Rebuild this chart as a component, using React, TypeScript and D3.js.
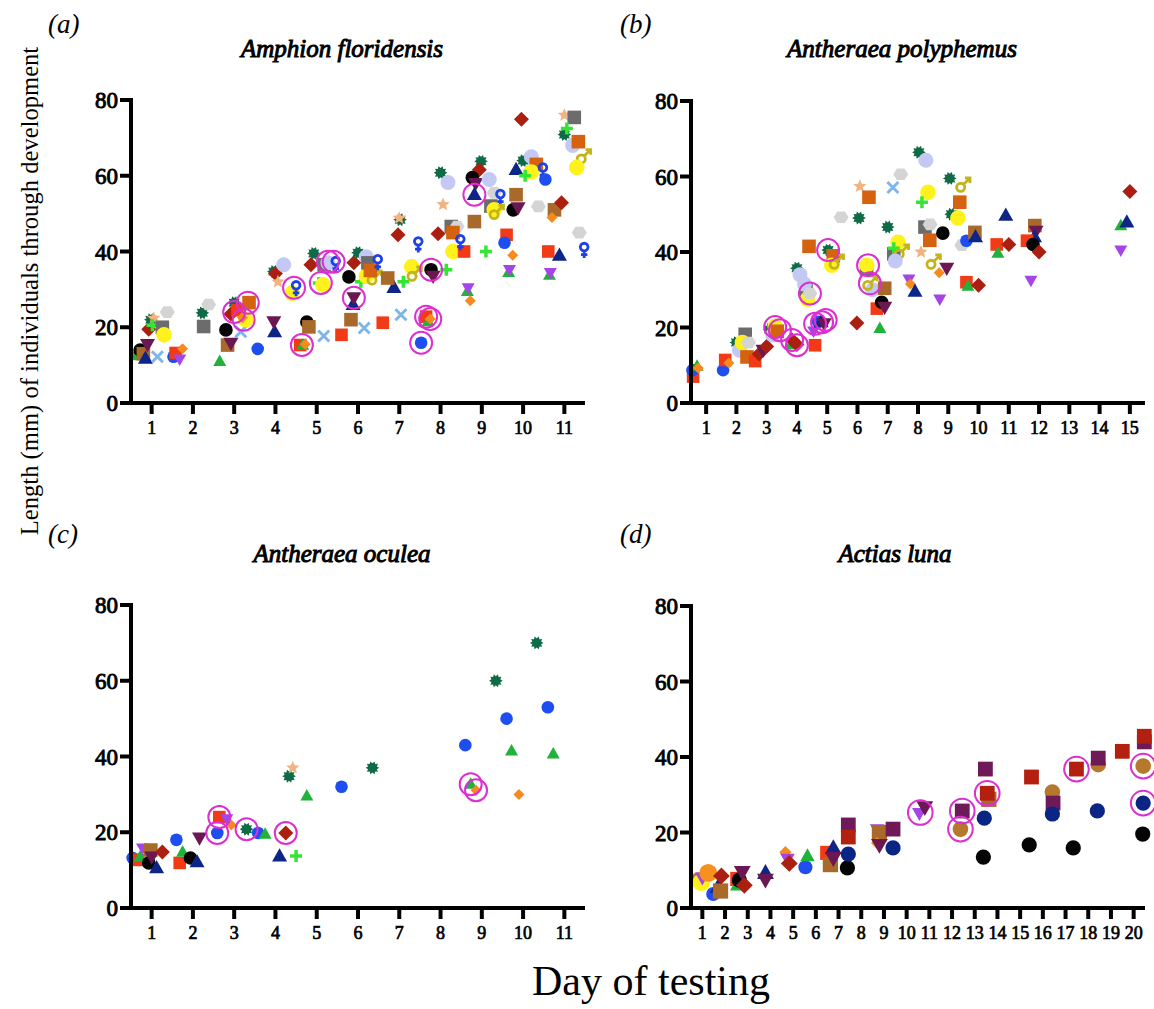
import React from 'react';
import * as d3 from 'd3';

type Pt = [number, number, string];
type Ring = [number, number];

// ---------- DATA ----------
const ticksA = d3.range(1, 12);
const ticksB = d3.range(1, 16);
const ticksC = d3.range(1, 12);
const ticksD = d3.range(1, 21);
const yTicks = [0, 20, 40, 60, 80];

const pointsA: Pt[] = [
  [0.6, 12.5, 'grT'], [0.72, 14, 'bk'], [0.8, 13, 'brS'], [0.85, 11.8, 'nvT'], [0.9, 15.5, 'dpV'],
  [0.93, 19.5, 'drD'], [0.98, 22, 'gs'], [1.05, 22.4, 'st'], [1.02, 20.5, 'gP'], [1.14, 12.2, 'lbX'],
  [1.26, 20, 'gyS'], [1.38, 24, 'hx'], [1.3, 18, 'ye'], [1.53, 12.2, 'bl'], [1.58, 13.2, 'rd'],
  [1.75, 14.3, 'orD'], [1.68, 11.6, 'puV'],
  [2.23, 23.8, 'gs'], [2.38, 26, 'hx'], [2.26, 20.2, 'gyS'],
  [2.65, 11, 'grT'], [2.8, 19.3, 'bk'], [2.84, 15.3, 'brS'], [2.92, 15.8, 'dpV'], [3.16, 18.8, 'lbX'],
  [2.92, 23.5, 'drD'], [3.0, 26.5, 'gs'], [3.08, 24.5, 'rd'], [3.36, 26.5, 'doS'], [3.28, 22, 'ye'],
  [3.2, 22.5, 'orD'], [3.57, 14.3, 'bl'], [3.98, 18.8, 'nvT'], [3.96, 21.5, 'dpV'],
  [3.96, 34.7, 'gs'], [4.0, 34.2, 'drD'], [4.06, 32, 'st'], [4.2, 36.5, 'lv'], [4.4, 29, 'ye'],
  [4.5, 30.4, 'fe'], [4.76, 21.4, 'bk'], [4.81, 20.1, 'brS'], [4.6, 15.3, 'rd'], [4.66, 15.3, 'grT'],
  [4.72, 15.5, 'orD'], [5.17, 17.7, 'lbX'], [5.05, 31.7, 'gP'], [5.15, 31.2, 'ye'],
  [4.93, 39.5, 'gs'], [4.86, 36.5, 'drD'], [5.18, 36.5, 'gyS'], [5.27, 37, 'lv'], [5.46, 36.8, 'fe'],
  [5.6, 18, 'rd'], [5.83, 22, 'brS'], [5.88, 26, 'nvT'], [5.9, 27.8, 'dpV'], [6.15, 19.8, 'lbX'],
  [6.6, 21.2, 'rd'], [7.04, 23.3, 'lbX'], [5.78, 33.3, 'bk'], [6.07, 32, 'gP'], [6.2, 33.5, 'ye'],
  [6.39, 33, 'ma'], [6.87, 30.5, 'nvT'], [6.72, 33, 'brS'],
  [5.9, 37, 'drD'], [6.0, 39.7, 'gs'], [6.2, 38.6, 'lv'], [6.24, 37, 'gyS'], [6.3, 35, 'doS'], [6.48, 37.3, 'fe'],
  [7.1, 32, 'gP'], [7.3, 36, 'ye'], [7.36, 34, 'ma'], [7.77, 35.2, 'bk'], [7.82, 33.5, 'dpV'],
  [8.14, 35.2, 'gP'], [7.65, 22.8, 'rd'], [7.7, 21.5, 'grT'], [7.75, 22.2, 'orD'], [7.53, 15.9, 'bl'],
  [8.65, 29.5, 'grT'], [8.67, 30.4, 'puV'], [8.72, 27, 'orD'], [9.65, 34.5, 'grT'], [9.67, 35.2, 'puV'],
  [10.64, 33.8, 'grT'], [10.66, 34.4, 'puV'],
  [9.96, 74.9, 'drD'], [11.0, 76, 'st'], [11.24, 75.4, 'gyS'], [11.0, 70.9, 'gs'], [11.06, 72.5, 'gP'],
  [11.2, 68, 'lv'], [11.34, 69, 'doS'], [11.46, 65, 'ma'], [11.3, 62.2, 'ye'],
  [8.98, 63.8, 'gs'], [8.94, 61.6, 'drD'], [8.0, 60.8, 'gs'], [8.18, 58.2, 'lv'], [8.77, 59.5, 'bk'],
  [8.85, 58, 'dpV'], [9.18, 59, 'lv'], [8.82, 55, 'nvT'], [9.3, 55.5, 'hx'], [9.45, 54.5, 'fe'],
  [8.06, 52.4, 'st'], [7.02, 48.4, 'gs'], [7.0, 48.8, 'st'], [6.97, 44.4, 'drD'], [7.94, 44.7, 'drD'],
  [8.26, 46.6, 'gyS'], [8.4, 46.6, 'hx'], [8.3, 45, 'doS'], [7.46, 42, 'fe'], [8.82, 47.9, 'brS'],
  [9.83, 55, 'brS'], [9.83, 61.6, 'nvT'], [10.0, 64, 'gs'], [10.2, 65, 'lv'], [10.32, 63, 'doS'],
  [10.2, 61, 'ye'], [10.05, 60, 'gP'], [10.48, 61.5, 'fe'], [10.54, 59, 'bl'],
  [9.22, 52, 'gyS'], [9.3, 51, 'ye'], [9.35, 50.3, 'ma'], [9.76, 51, 'bk'], [9.88, 51.6, 'dpV'],
  [10.76, 51, 'brS'], [10.93, 52.9, 'drD'], [10.7, 49, 'orD'], [10.37, 51.9, 'hx'], [11.36, 45, 'hx'],
  [11.48, 40.5, 'fe'], [10.61, 40, 'rd'], [10.88, 39, 'nvT'], [9.6, 44.4, 'rd'], [9.55, 42.3, 'bl'],
  [9.75, 39, 'orD'], [9.1, 40, 'gP'], [8.3, 40, 'ye'], [8.57, 40, 'rd'], [8.48, 42.6, 'fe'],
];
const ringsA: Ring[] = [
  [3.0, 24], [3.33, 26.5], [3.23, 22], [4.45, 30.4], [5.1, 31.7], [4.64, 15.3], [5.9, 27.8],
  [5.27, 37.3], [5.41, 37.3], [7.77, 35.2], [7.65, 22.8], [7.75, 22.2], [7.53, 15.9], [8.82, 55],
];

const pointsB: Pt[] = [
  [0.57, 7, 'rd'], [0.55, 8.7, 'bl'], [0.7, 9.8, 'grT'], [0.74, 9.3, 'orD'], [1.56, 8.7, 'bl'],
  [1.63, 11.4, 'rd'], [1.75, 10.6, 'orD'], [2.0, 16, 'gs'], [2.1, 14, 'lv'], [2.29, 18.2, 'gyS'],
  [2.2, 16, 'ye'], [2.4, 16, 'hx'], [2.35, 12.2, 'doS'], [2.62, 11.1, 'rd'], [2.75, 13, 'drD'],
  [2.88, 14, 'dpV'], [3.0, 15, 'drD'], [3.1, 19.5, 'gs'], [3.2, 18, 'lv'], [3.28, 20.3, 'ye'],
  [3.35, 19, 'doS'], [3.8, 15.5, 'grT'], [3.84, 16.7, 'drD'], [4.0, 15.5, 'drD'],
  [4.3, 30, 'gyS'], [4.25, 31.5, 'lv'], [4.35, 27.5, 'ye'], [4.43, 29, 'hx'], [4.0, 35.7, 'gs'],
  [4.1, 34, 'lv'], [4.6, 15.3, 'rd'], [4.55, 19, 'puV'], [4.7, 21.5, 'bl'], [4.8, 21.5, 'nvT'],
  [4.9, 21, 'dpV'], [4.4, 41.5, 'doS'], [5.03, 40.5, 'gs'], [5.2, 39, 'doS'], [5.15, 36.5, 'ye'],
  [5.3, 37.3, 'ma'], [5.46, 49.2, 'hx'], [6.05, 49, 'gs'], [6.08, 57.4, 'st'], [6.38, 54.5, 'doS'],
  [5.98, 21.2, 'drD'], [6.3, 35.5, 'gyS'], [6.31, 36.5, 'ye'], [6.5, 30, 'lv'], [6.41, 31.7, 'ma'],
  [6.64, 25, 'rd'], [6.8, 26.7, 'bk'], [6.9, 25.4, 'dpV'], [6.9, 30.4, 'brS'], [6.74, 19.8, 'grT'],
  [7.0, 46.6, 'gs'], [7.17, 57.1, 'lbX'], [7.43, 60.6, 'hx'], [7.2, 39.5, 'gyS'], [7.34, 42.6, 'ye'],
  [7.2, 41, 'gP'], [7.45, 40, 'ma'], [7.25, 37.6, 'lv'], [7.7, 32.8, 'puV'], [7.75, 31.5, 'orD'],
  [7.9, 29.6, 'nvT'], [8.03, 66.4, 'gs'], [8.26, 64.3, 'lv'], [8.33, 55.8, 'ye'], [8.13, 53.2, 'gP'],
  [8.23, 46.6, 'gyS'], [8.4, 47.3, 'hx'], [8.39, 43.1, 'doS'], [8.1, 40, 'st'], [8.5, 37.3, 'ma'],
  [8.82, 45, 'bk'], [8.72, 27.5, 'puV'], [8.7, 34.5, 'orD'], [8.95, 35.7, 'dpV'],
  [9.05, 59.5, 'gs'], [9.48, 57.7, 'ma'], [9.38, 53.2, 'doS'], [9.1, 50, 'gs'], [9.32, 49, 'ye'],
  [9.45, 41.8, 'hx'], [9.6, 43, 'bl'], [9.88, 45.2, 'brS'], [9.9, 44, 'nvT'], [9.6, 32, 'rd'],
  [9.65, 31, 'grT'], [10.0, 31.2, 'drD'], [10.6, 42, 'rd'], [11.0, 42, 'drD'], [10.9, 49.7, 'nvT'],
  [10.64, 39.7, 'grT'], [11.73, 32.5, 'puV'], [11.86, 47, 'brS'], [11.9, 45.5, 'dpV'], [11.85, 44, 'nvT'],
  [11.6, 43, 'rd'], [11.8, 42, 'bk'], [12.0, 40, 'drD'], [15.0, 56, 'drD'], [14.7, 47, 'grT'],
  [14.9, 47.9, 'nvT'], [14.7, 40.5, 'puV'],
];
const ringsB: Ring[] = [
  [3.28, 20.1], [3.44, 19.3], [3.84, 16.7], [4.0, 15.3], [4.43, 29], [4.6, 21], [4.83, 21.4],
  [4.95, 22], [6.41, 31.7], [6.35, 36.5], [5.03, 40.5],
];

const pointsC: Pt[] = [
  [0.54, 13.2, 'bl'], [0.66, 12.7, 'rd'], [0.72, 13.5, 'grT'], [0.78, 15.8, 'puV'], [0.98, 15.3, 'brS'],
  [0.93, 11.9, 'bk'], [1.0, 13.5, 'dpV'], [1.12, 10.6, 'nvT'], [1.26, 14.8, 'drD'], [1.6, 18, 'bl'],
  [1.68, 11.9, 'rd'], [1.75, 14.8, 'grT'], [1.94, 13.2, 'bk'], [2.1, 12.2, 'nvT'], [2.16, 18.5, 'dpV'],
  [2.59, 19.8, 'bl'], [2.64, 24, 'rd'], [2.82, 23.5, 'puV'], [2.93, 21.9, 'orD'], [3.3, 20.8, 'gs'],
  [3.58, 19.8, 'bl'], [3.75, 19.5, 'grT'], [4.1, 13.7, 'nvT'], [4.25, 19.8, 'drD'], [4.5, 13.7, 'gP'],
  [4.33, 34.8, 'gs'], [4.42, 37, 'st'], [4.76, 29.6, 'grT'], [5.6, 32, 'bl'], [6.35, 37, 'gs'],
  [8.6, 43, 'bl'], [8.73, 32.7, 'grT'], [8.86, 31.1, 'orD'], [9.34, 60, 'gs'], [9.6, 50, 'bl'],
  [9.72, 41.5, 'grT'], [9.9, 30, 'orD'], [10.33, 70, 'gs'], [10.6, 53, 'bl'], [10.73, 40.7, 'grT'],
];
const ringsC: Ring[] = [[2.64, 24], [2.59, 19.8], [3.3, 20.8], [4.25, 19.8], [8.73, 32.7], [8.86, 31.1]];

const pointsD: Pt[] = [
  [0.82, 7.4, 'brC'], [0.95, 6.8, 'ye'], [1.0, 8, 'puV'], [1.26, 9.3, 'orC'], [1.48, 3.7, 'bl'],
  [1.7, 5.6, 'nvT'], [1.8, 4.5, 'brS'], [1.84, 8.5, 'drD'], [2.54, 7.7, 'rd'], [2.54, 6, 'grT'],
  [2.63, 7.4, 'bk'], [2.76, 9.5, 'dpV'], [2.85, 6, 'drD'], [3.78, 9.3, 'nvT'], [3.78, 7.5, 'dpV'],
  [4.66, 14.8, 'orD'], [4.75, 13, 'puV'], [4.83, 11.8, 'drD'], [5.54, 10.8, 'bl'], [5.63, 13.8, 'grT'],
  [6.5, 14.6, 'rd'], [6.77, 15.9, 'nvT'], [6.64, 11.5, 'brS'], [6.77, 13.2, 'dpV'], [7.39, 10.6, 'bk'],
  [7.43, 14.3, 'nvC'], [7.43, 22, 'dpS'], [7.43, 18.8, 'drS'], [8.7, 20.8, 'puV'], [8.8, 20, 'brS'],
  [8.7, 17.2, 'orD'], [8.8, 16.7, 'dpV'], [9.4, 20.9, 'dpS'], [9.4, 15.9, 'nvC'],
  [10.56, 25.1, 'puV'], [10.8, 26.7, 'dpV'], [12.45, 25.7, 'dpS'], [12.37, 20.9, 'brC'],
  [13.47, 36.8, 'dpS'], [13.62, 28.8, 'brS'], [13.55, 30.4, 'drS'], [13.42, 23.8, 'nvC'], [13.38, 13.5, 'bk'],
  [15.5, 34.7, 'drS'], [15.4, 16.7, 'bk'], [16.42, 30.7, 'brC'], [16.45, 27.8, 'dpS'], [16.42, 24.9, 'nvC'],
  [17.48, 36.8, 'drS'], [17.34, 15.9, 'bk'], [18.44, 38, 'brC'], [18.44, 39.7, 'dpS'], [18.4, 25.7, 'nvC'],
  [19.5, 41.5, 'drS'], [20.47, 44, 'dpS'], [20.47, 45.5, 'drS'], [20.42, 37.6, 'brC'], [20.42, 27.8, 'nvC'],
  [20.4, 19.6, 'bk'],
];
const ringsD: Ring[] = [[10.6, 25.3], [12.45, 25.7], [12.37, 20.9], [13.55, 30.4], [17.48, 36.8], [20.42, 37.6], [20.42, 27.8]];

// ---------- SHAPES ----------
type Ctx = { moveTo: (x: number, y: number) => void; lineTo: (x: number, y: number) => void; arc: (x: number, y: number, r: number, a0: number, a1: number) => void; closePath: () => void };
const poly = (c: Ctx, pts: [number, number][]) => {
  pts.forEach((p, i) => (i === 0 ? c.moveTo(p[0], p[1]) : c.lineTo(p[0], p[1])));
  c.closePath();
};
const ring = (c: Ctx, x: number, y: number, r: number) => {
  c.moveTo(x + r, y);
  c.arc(x, y, r, 0, 2 * Math.PI);
};
const SHAPES: Record<string, { draw: (c: Ctx, r: number) => void }> = {
  circle: { draw: (c, r) => ring(c, 0, 0, r) },
  square: { draw: (c, r) => poly(c, [[-r, -r], [r, -r], [r, r], [-r, r]]) },
  diamond: { draw: (c, r) => poly(c, [[0, -r], [r, 0], [0, r], [-r, 0]]) },
  triangle: { draw: (c, r) => poly(c, [[0, -1.05 * r], [r, 0.72 * r], [-r, 0.72 * r]]) },
  triDown: { draw: (c, r) => poly(c, [[0, 1.05 * r], [r, -0.72 * r], [-r, -0.72 * r]]) },
  star: {
    draw: (c, r) => poly(c, d3.range(10).map((i) => {
      const a = -Math.PI / 2 + (i * Math.PI) / 5;
      const rr = i % 2 === 0 ? r : r * 0.45;
      return [rr * Math.cos(a), rr * Math.sin(a)] as [number, number];
    })),
  },
  gear: {
    draw: (c, r) => poly(c, d3.range(20).map((i) => {
      const a = (i * Math.PI) / 10;
      const rr = i % 2 === 0 ? r : r * 0.68;
      return [rr * Math.cos(a), rr * Math.sin(a)] as [number, number];
    })),
  },
  hex: {
    draw: (c, r) => poly(c, d3.range(6).map((i) => {
      const a = (i * Math.PI) / 3;
      return [r * Math.cos(a), r * 0.9 * Math.sin(a)] as [number, number];
    })),
  },
  x: { draw: (c, r) => { c.moveTo(-r, -r); c.lineTo(r, r); c.moveTo(r, -r); c.lineTo(-r, r); } },
  plus: { draw: (c, r) => { c.moveTo(-r, 0); c.lineTo(r, 0); c.moveTo(0, -r); c.lineTo(0, r); } },
  female: {
    draw: (c, r) => {
      ring(c, 0, -0.3 * r, 0.45 * r);
      c.moveTo(0, 0.15 * r); c.lineTo(0, 1.0 * r);
      c.moveTo(-0.38 * r, 0.6 * r); c.lineTo(0.38 * r, 0.6 * r);
    },
  },
  male: {
    draw: (c, r) => {
      ring(c, -0.25 * r, 0.25 * r, 0.48 * r);
      c.moveTo(0.1 * r, -0.1 * r); c.lineTo(0.8 * r, -0.8 * r);
      c.moveTo(0.25 * r, -0.85 * r); c.lineTo(0.85 * r, -0.85 * r); c.lineTo(0.85 * r, -0.25 * r);
    },
  },
};

const STYLE: Record<string, { shape: string; r: number; fill?: string; stroke?: string; sw?: number }> = {
  bk: { shape: 'circle', r: 6.8, fill: '#050505' },
  bl: { shape: 'circle', r: 6.3, fill: '#1f4ef0' },
  nvC: { shape: 'circle', r: 6.8, fill: '#0b2585' },
  lv: { shape: 'circle', r: 7.5, fill: '#c3c8f5' },
  ye: { shape: 'circle', r: 7.8, fill: '#fff21c' },
  brC: { shape: 'circle', r: 7, fill: '#b5782c' },
  orC: { shape: 'circle', r: 8, fill: '#f7901c' },
  rd: { shape: 'square', r: 6.3, fill: '#f33a16' },
  brS: { shape: 'square', r: 6.8, fill: '#a8692a' },
  doS: { shape: 'square', r: 6.8, fill: '#d4620f' },
  gyS: { shape: 'square', r: 6.8, fill: '#6c6c6c' },
  dpS: { shape: 'square', r: 6.6, fill: '#6f1a58' },
  drS: { shape: 'square', r: 6.6, fill: '#b3200f' },
  drD: { shape: 'diamond', r: 7.5, fill: '#ab1f10' },
  orD: { shape: 'diamond', r: 5.5, fill: '#f58a1f' },
  nvT: { shape: 'triangle', r: 7.5, fill: '#0d2587' },
  grT: { shape: 'triangle', r: 6.5, fill: '#20b23a' },
  puV: { shape: 'triDown', r: 6.5, fill: '#a545e8' },
  dpV: { shape: 'triDown', r: 7.5, fill: '#6b1752' },
  gs: { shape: 'gear', r: 6.8, fill: '#0f6b45' },
  st: { shape: 'star', r: 7, fill: '#f2b383' },
  lbX: { shape: 'x', r: 5.5, stroke: '#7fb6ea', sw: 3 },
  gP: { shape: 'plus', r: 6, stroke: '#34e634', sw: 3.5 },
  hx: { shape: 'hex', r: 7.5, fill: '#d4d4d4' },
  fe: { shape: 'female', r: 8.5, stroke: '#1d40e8', sw: 2.8 },
  ma: { shape: 'male', r: 8.5, stroke: '#c4b41c', sw: 2.8 },
};

const FONT = "'Liberation Serif', 'Times New Roman', serif";

type Panel = {
  letter: string; title: string; points: Pt[]; rings: Ring[]; ticks: number[]; xMax: number;
  x0: number; x1: number; yTop: number; yBot: number; scale: number;
  titleX: number; titleY: number; letterX: number; letterY: number;
};

const PANELS: Panel[] = [
  { letter: '(a)', title: 'Amphion floridensis', points: pointsA, rings: ringsA, ticks: ticksA, xMax: 11.5,
    x0: 131, x1: 585, yTop: 100, yBot: 403, scale: 1, titleX: 342, titleY: 57, letterX: 48, letterY: 33 },
  { letter: '(b)', title: 'Antheraea polyphemus', points: pointsB, rings: ringsB, ticks: ticksB, xMax: 15.5,
    x0: 691, x1: 1145, yTop: 101, yBot: 403, scale: 1, titleX: 902, titleY: 57, letterX: 620, letterY: 33 },
  { letter: '(c)', title: 'Antheraea oculea', points: pointsC, rings: ringsC, ticks: ticksC, xMax: 11.5,
    x0: 131, x1: 585, yTop: 605, yBot: 908, scale: 1, titleX: 342, titleY: 562, letterX: 48, letterY: 543 },
  { letter: '(d)', title: 'Actias luna', points: pointsD, rings: ringsD, ticks: ticksD, xMax: 20.5,
    x0: 691, x1: 1145, yTop: 606, yBot: 908, scale: 1.12, titleX: 895, titleY: 562, letterX: 620, letterY: 543 },
];

// faux-bold: the serif bold face is not installed, so regular glyphs get a thin outline
const boldText = { stroke: '#000', strokeWidth: 0.9, paintOrder: 'stroke' as const };

function Marker({ x, y, k, scale }: { x: number; y: number; k: string; scale: number }) {
  const s = STYLE[k];
  const d = d3.symbol(SHAPES[s.shape] as any, s.r * scale)() as string;
  return (
    <path
      d={d}
      transform={`translate(${x},${y})`}
      fill={s.fill ?? 'none'}
      stroke={s.stroke ?? 'none'}
      strokeWidth={s.sw ?? 0}
      strokeLinecap="butt"
    />
  );
}

function PanelView({ p }: { p: Panel }) {
  const x = d3.scaleLinear().domain([0.5, p.xMax]).range([p.x0, p.x1]);
  const y = d3.scaleLinear().domain([0, 80]).range([p.yBot, p.yTop]);
  const tickFont = 18;
  return (
    <g>
      <text x={p.letterX} y={p.letterY} fontFamily={FONT} fontStyle="italic" fontSize={27}>{p.letter}</text>
      <text x={p.titleX} y={p.titleY} textAnchor="middle" fontFamily={FONT} fontStyle="italic" fontSize={25} {...boldText} strokeWidth={1}>{p.title}</text>
      {p.points.map((d, i) => (
        <Marker key={i} x={x(d[0])} y={y(d[1])} k={d[2]} scale={p.scale} />
      ))}
      {p.rings.map((d, i) => (
        <circle key={'r' + i} cx={x(d[0])} cy={y(d[1])} r={11 * p.scale} fill="none" stroke="#dc2fd2" strokeWidth={2} />
      ))}
      {/* axes */}
      <line x1={p.x0} x2={p.x0} y1={y(80) - 2} y2={p.yBot + 2} stroke="#000" strokeWidth={4} />
      <line x1={p.x0 - 2} x2={p.x1} y1={p.yBot} y2={p.yBot} stroke="#000" strokeWidth={4} />
      {yTicks.map((t) => (
        <g key={'y' + t}>
          <line x1={p.x0 - 11} x2={p.x0} y1={y(t)} y2={y(t)} stroke="#000" strokeWidth={4} />
          <text x={p.x0 - 13} y={y(t)} dy="0.35em" textAnchor="end" fontFamily={FONT} fontSize={23} {...boldText}>{t}</text>
        </g>
      ))}
      {p.ticks.map((t) => (
        <g key={'x' + t}>
          <line x1={x(t)} x2={x(t)} y1={p.yBot} y2={p.yBot + 11} stroke="#000" strokeWidth={4} />
          <text x={x(t)} y={p.yBot + 31} textAnchor="middle" fontFamily={FONT} fontSize={tickFont} {...boldText} strokeWidth={0.7}>{t}</text>
        </g>
      ))}
    </g>
  );
}

export default function App() {
  return (
    <svg width={1154} height={1009} style={{ position: 'absolute', left: 0, top: 0, background: '#fff' }}>
      <rect width={1154} height={1009} fill="#fff" />
      {PANELS.map((p) => (
        <PanelView key={p.letter} p={p} />
      ))}
      <text transform="translate(38,291) rotate(-90)" textAnchor="middle" fontFamily={FONT} fontSize={24.6}>
        Length (mm) of individuals through development
      </text>
      <text x={651} y={995} textAnchor="middle" fontFamily={FONT} fontSize={42}>Day of testing</text>
    </svg>
  );
}
